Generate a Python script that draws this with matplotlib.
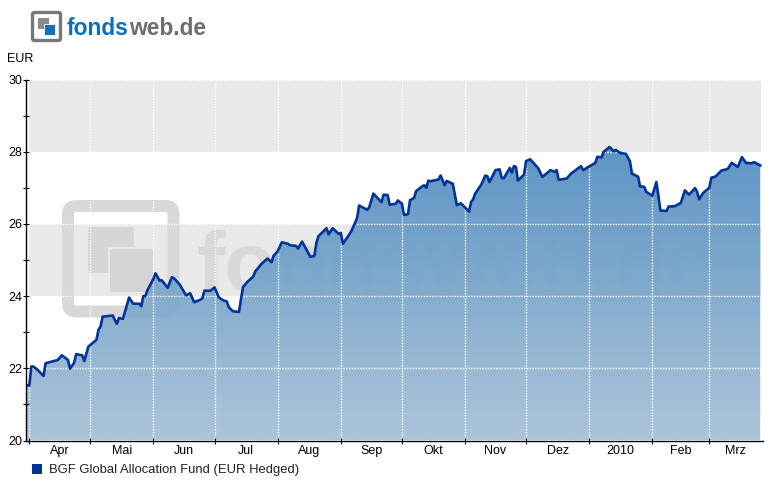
import numpy as np
import matplotlib
matplotlib.use("Agg")
import matplotlib.pyplot as plt
from matplotlib.patches import FancyBboxPatch, Rectangle, Polygon

plt.rcParams['font.family'] = ['Liberation Sans', 'DejaVu Sans']

BASE = np.datetime64('2009-04-01')
days = [-2,0,1,2,4,7,8,14,16,19,20,22,23,26,27,29,33,34,35,36,39,41,43,44,46,49,51,54,55,56,57,58,61,62,64,65,68,70,71,74,77,79,81,84,85,86,89,91,92,93,95,97,98,100,103,104,105,107,110,111,112,
        113,114,117,119,120,122,124,127,128,131,132,134,138,140,141,142,146,147,149,152,153,154,156,158,160,161,162,166,167,169,173,174,176,177,180,181,183,184,186,187,189,190,193,194,195,196,197,201,202,204,205,208,210,212,216,217,218,219,222,224,225,226,229,231,232,233,236,237,238,239,
        240,243,244,246,250,252,256,258,259,260,264,266,271,272,278,279,281,282,285,287,288,290,293,295,296,299,300,302,303,306,308,310,313,314,317,320,322,324,327,328,329,331,334,335,337,340,343,345,348,350,352,355,356,359]
values = [21.54,21.52,22.05,22.05,21.96,21.79,22.14,22.23,22.36,22.23,21.99,22.15,22.39,22.36,22.20,22.6,22.79,23.07,23.16,23.43,23.45,23.46,23.23,23.39,23.37,23.96,23.79,23.79,23.72,24.0,24.0,24.16,24.48,24.63,24.43,24.44,24.23,24.52,24.5,24.31,24.02,24.08,23.83,23.9,23.94,24.15,24.15,24.24,24.11,23.97,23.89,23.85,23.69,23.58,23.56,23.93,24.25,24.39,24.54,24.69,24.75,
          24.82,24.89,25.04,24.94,25.12,25.24,25.49,25.45,25.41,25.39,25.32,25.51,25.09,25.11,25.47,25.66,25.88,25.71,25.88,25.72,25.75,25.45,25.61,25.78,26.03,26.17,26.51,26.39,26.47,26.84,26.6,26.81,26.8,26.53,26.56,26.65,26.56,26.25,26.27,26.66,26.72,26.91,27.04,27.07,27.0,27.2,27.18,27.23,27.34,27.07,27.19,27.11,26.52,26.57,26.34,26.61,26.68,26.84,27.09,27.34,27.32,27.16,27.49,27.51,27.28,27.26,27.55,27.42,27.6,27.58,
          27.2,27.37,27.74,27.79,27.54,27.3,27.49,27.44,27.49,27.22,27.26,27.39,27.6,27.49,27.69,27.86,27.84,27.99,28.13,28.01,28.05,27.97,27.94,27.74,27.39,27.31,27.04,27.03,26.89,26.78,27.16,26.37,26.36,26.48,26.49,26.58,26.93,26.81,26.99,26.89,26.68,26.86,27.0,27.28,27.31,27.48,27.52,27.69,27.58,27.85,27.69,27.68,27.71,27.62]
month_starts = ['2009-04-01','2009-05-01','2009-06-01','2009-07-01','2009-08-01','2009-09-01','2009-10-01','2009-11-01','2009-12-01','2010-01-01','2010-02-01','2010-03-01']
month_labels = ['Apr','Mai','Jun','Jul','Aug','Sep','Okt','Nov','Dez','2010','Feb','Mrz']
series_name = 'BGF Global Allocation Fund (EUR Hedged)'

W, H = 775, 480
fig = plt.figure(figsize=(W/100, H/100), dpi=100, facecolor='white')
L, R, T, B = 25.5, 763.0, 79.5, 440.5
rect = [L/W, 1-B/H, (R-L)/W, (B-T)/H]
x = np.array(days, dtype=float)
y = np.array(values)
ms = np.array([(np.datetime64(m) - BASE) / np.timedelta64(1, 'D') for m in month_starts], dtype=float)
x0 = (L - 29.3) / 2.036
x1 = (R - 29.3) / 2.036
xband = (761 - 29.3) / 2.036

# bands
ax = fig.add_axes(rect, zorder=0.4)
ax.set_xlim(x0, x1); ax.set_ylim(20, 30); ax.axis('off')
for lo, hi in [(28, 30), (24, 26)]:
    ax.fill_between([0, xband], lo, hi, color='#e9e9e9', lw=0, zorder=1)

# watermark (pixel coordinates)
ov = fig.add_axes([0, 0, 1, 1], facecolor='none', zorder=0.5)
ov.set_xlim(0, W); ov.set_ylim(H, 0); ov.axis('off')
wm = '#d8d8d8'
ov.add_patch(FancyBboxPatch((68, 206), 105.5, 105.5, boxstyle='round,pad=0,rounding_size=8', fc='none', ec=wm, lw=8.6))
ov.add_patch(FancyBboxPatch((88, 227), 46, 46, boxstyle='round,pad=0,rounding_size=2', fc='#d6d6d6', ec='none', lw=0))
ov.add_patch(FancyBboxPatch((108, 247), 47, 47, boxstyle='round,pad=0,rounding_size=2', fc='#e9e9e9', ec='none', lw=0))
ov.add_patch(FancyBboxPatch((110, 249), 43, 43, boxstyle='round,pad=0,rounding_size=2', fc='#d4d4d4', ec='none', lw=0))
LOGOFONT = ['Liberation Sans', 'DejaVu Sans']
ov.text(196, 292, 'fondsweb.de', fontsize=61, fontweight='bold', family=LOGOFONT, color=wm, va='baseline', ha='left', zorder=1)

# gradient area above the watermark
ax2 = fig.add_axes(rect, facecolor='none', zorder=0.6)
ax2.set_xlim(x0, x1); ax2.set_ylim(20, 30); ax2.axis('off')
c_top = np.array([80, 140, 192]) / 255
c_bot = np.array([166, 193, 215]) / 255
t = np.linspace(0, 1, 256)[:, None]
img = np.zeros((256, 1, 4))
img[..., :3] = c_top * (1 - t[..., None]) + c_bot * t[..., None]
img[..., 3] = 0.93
im = ax2.imshow(img, extent=[x0, x1, 20, 28.2], origin='upper', aspect='auto', zorder=2, interpolation='bilinear')
ax2.set_xlim(x0, x1); ax2.set_ylim(20, 30)
poly = Polygon(np.column_stack([np.r_[x[0], x, x[-1]], np.r_[20, y, 20]]), closed=True, transform=ax2.transData, fc='none', ec='none')
ax2.add_patch(poly)
im.set_clip_path(poly)

# grid
for v in [22, 24, 26, 28, 30]:
    ax2.plot([0, xband], [v, v], color='white', lw=1, ls=(0, (1, 1)), zorder=3, clip_on=False)
for m in ms:
    ax2.plot([m, m], [20, 30], color='white', lw=1, ls=(0, (1, 1)), zorder=3, clip_on=False)
ax2.plot(x, y, color='#003399', lw=1.9, zorder=4, solid_joinstyle='round')

# axes drawn on top
ax3 = fig.add_axes(rect, facecolor='none', zorder=0.7)
ax3.set_xlim(x0, x1); ax3.set_ylim(20, 30)
for s in ['top', 'right']:
    ax3.spines[s].set_visible(False)
for s in ['left', 'bottom']:
    ax3.spines[s].set_linewidth(1.0)
ax3.set_yticks([20, 22, 24, 26, 28, 30])
ax3.set_yticks([21, 23, 25, 27, 29], minor=True)
ax3.tick_params(axis='y', which='both', direction='inout', length=5, width=0.8, labelsize=9, pad=0)
ax3.set_xticks(ms)
ax3.set_xticklabels([])
ax3.tick_params(axis='x', direction='inout', length=5, width=0.8)
edges = np.r_[ms, xband]
for i, lab in enumerate(month_labels):
    ax3.text((edges[i] + edges[i + 1]) / 2, 20 - 0.24, lab, fontsize=9, ha='center', va='center_baseline', color='black', clip_on=False)

ov2 = fig.add_axes([0, 0, 1, 1], facecolor='none', zorder=1)
ov2.set_xlim(0, W); ov2.set_ylim(H, 0); ov2.axis('off')
ov2.text(7, 59, 'EUR', fontsize=9, ha='left', va='center', color='black')
ov2.add_patch(Rectangle((32, 464), 10, 10, fc='#003399', lw=0))
ov2.text(49, 469.5, series_name, fontsize=9.4, ha='left', va='center', color='#222222')

# logo
ov2.add_patch(FancyBboxPatch((32.5, 12.5), 28, 28, boxstyle='round,pad=0,rounding_size=2', fc='white', ec='#77787b', lw=2.4))
ov2.add_patch(Rectangle((38, 18), 11, 11, fc='#8a8a8c', lw=0))
ov2.add_patch(Rectangle((44, 24), 11, 11, fc='#0a70b8', ec='white', lw=0.6))
t1 = ov2.text(67, 35, 'fonds', fontsize=16.4, fontweight='bold', family=LOGOFONT, color='#0a70b8', ha='left', va='baseline')
fig.canvas.draw()
bb = t1.get_window_extent()
ov2.text(bb.x1 + 0.5, 35, 'web.de', fontsize=16.4, fontweight='bold', family=LOGOFONT, color='#6d6e71', ha='left', va='baseline')

fig.savefig('out.png', dpi=100, facecolor='white')
